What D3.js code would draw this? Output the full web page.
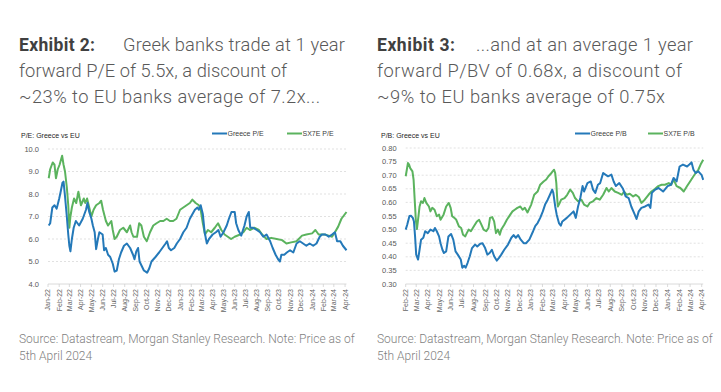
<!DOCTYPE html>
<html>
<head>
<meta charset="utf-8">
<script src="https://cdn.jsdelivr.net/npm/d3@7"></script>
<style>
  body { margin: 0; background: #fff; }
  svg { display: block; }
</style>
</head>
<body>
<script>
// Greek banks vs SX7E, 1y forward multiples
var greecePE = [
  ["2022-01-03",6.6],["2022-01-07",6.7],["2022-01-13",7.4],["2022-01-19",7.5],["2022-01-25",7.35],
  ["2022-02-01",7.8],["2022-02-05",8.1],["2022-02-10",8.5],["2022-02-13",8.55],["2022-02-17",7.9],
  ["2022-02-22",7.0],["2022-02-26",6.2],["2022-03-01",5.7],["2022-03-04",5.45],["2022-03-08",6.0],
  ["2022-03-13",6.5],["2022-03-19",6.8],["2022-03-28",6.6],["2022-04-07",6.9],["2022-04-16",7.3],
  ["2022-04-20",7.6],["2022-04-25",7.2],["2022-05-01",6.9],["2022-05-05",6.6],["2022-05-10",6.3],
  ["2022-05-14",5.55],["2022-05-19",6.0],["2022-05-23",6.3],["2022-06-01",6.2],["2022-06-05",5.5],
  ["2022-06-10",5.6],["2022-06-16",5.3],["2022-06-22",5.2],["2022-06-29",4.9],["2022-07-04",4.55],
  ["2022-07-10",4.6],["2022-07-16",5.1],["2022-07-22",5.4],["2022-07-30",5.7],["2022-08-07",5.8],
  ["2022-08-16",5.6],["2022-08-24",5.3],["2022-08-28",5.1],["2022-09-02",5.45],["2022-09-07",5.6],
  ["2022-09-11",5.0],["2022-09-17",4.8],["2022-09-23",4.6],["2022-09-28",4.55],["2022-10-02",4.5],
  ["2022-10-08",4.7],["2022-10-14",5.0],["2022-10-25",5.2],["2022-11-04",5.4],["2022-11-13",5.6],
  ["2022-11-22",5.8],["2022-11-26",5.9],["2022-12-01",5.6],["2022-12-07",5.5],["2022-12-16",5.6],
  ["2022-12-23",5.8],["2023-01-01",6.0],["2023-01-10",6.3],["2023-01-19",6.5],["2023-01-28",6.9],
  ["2023-02-04",7.1],["2023-02-11",7.3],["2023-02-18",7.4],["2023-02-22",7.3],["2023-02-27",7.5],
  ["2023-03-05",7.1],["2023-03-10",6.3],["2023-03-16",5.8],["2023-03-22",6.0],["2023-04-01",6.2],
  ["2023-04-10",6.3],["2023-04-17",6.4],["2023-04-23",6.1],["2023-05-01",6.3],["2023-05-10",6.6],
  ["2023-05-16",6.9],["2023-05-23",7.2],["2023-06-01",7.2],["2023-06-05",6.7],["2023-06-11",6.4],
  ["2023-06-19",6.15],["2023-06-28",6.6],["2023-07-04",7.0],["2023-07-10",7.2],["2023-07-14",6.5],
  ["2023-07-22",6.5],["2023-08-01",6.4],["2023-08-10",6.3],["2023-08-19",6.1],["2023-08-28",6.2],
  ["2023-09-07",5.9],["2023-09-14",5.6],["2023-09-22",5.3],["2023-09-29",5.1],["2023-10-04",5.0],
  ["2023-10-08",5.3],["2023-10-16",5.3],["2023-10-23",5.4],["2023-11-01",5.5],["2023-11-10",5.4],
  ["2023-11-19",5.8],["2023-11-28",5.9],["2023-12-07",5.8],["2023-12-16",5.7],["2023-12-25",5.8],
  ["2024-01-04",5.7],["2024-01-13",5.8],["2024-01-22",6.1],["2024-01-28",6.2],["2024-02-07",6.2],
  ["2024-02-16",6.1],["2024-02-25",6.2],["2024-03-04",6.3],["2024-03-10",5.9],["2024-03-19",5.9],
  ["2024-03-26",5.7],["2024-04-05",5.5]
];
var sx7ePE = [
  ["2022-01-03",8.7],["2022-01-07",9.1],["2022-01-14",9.4],["2022-01-19",9.3],["2022-01-23",8.7],
  ["2022-01-28",9.1],["2022-02-02",9.3],["2022-02-09",9.7],["2022-02-13",9.3],["2022-02-17",9.0],
  ["2022-02-22",8.3],["2022-02-26",7.5],["2022-03-01",6.5],["2022-03-04",7.0],["2022-03-08",7.4],
  ["2022-03-14",7.8],["2022-03-20",7.6],["2022-03-26",8.1],["2022-04-02",7.5],["2022-04-10",7.8],
  ["2022-04-14",7.6],["2022-04-19",7.8],["2022-04-25",7.4],["2022-05-01",7.0],["2022-05-07",7.3],
  ["2022-05-14",7.5],["2022-05-23",7.6],["2022-05-28",7.7],["2022-06-02",7.3],["2022-06-10",6.8],
  ["2022-06-16",6.6],["2022-06-25",6.8],["2022-06-29",6.4],["2022-07-04",6.0],["2022-07-10",6.1],
  ["2022-07-19",6.4],["2022-07-28",6.5],["2022-08-07",6.3],["2022-08-16",6.6],["2022-08-20",6.3],
  ["2022-08-25",6.1],["2022-09-04",6.1],["2022-09-10",6.7],["2022-09-16",6.6],["2022-09-23",6.1],
  ["2022-10-01",5.9],["2022-10-10",6.3],["2022-10-19",6.6],["2022-10-28",6.7],["2022-11-07",6.8],
  ["2022-11-16",6.8],["2022-11-25",6.9],["2022-12-04",6.8],["2022-12-13",6.8],["2022-12-22",6.9],
  ["2023-01-01",7.3],["2023-01-10",7.4],["2023-01-19",7.5],["2023-01-28",7.6],["2023-02-04",7.75],
  ["2023-02-13",7.6],["2023-02-22",7.5],["2023-02-27",7.3],["2023-03-05",6.7],["2023-03-11",6.2],
  ["2023-03-19",6.4],["2023-03-28",6.3],["2023-04-07",6.5],["2023-04-16",6.7],["2023-04-25",6.4],
  ["2023-05-04",6.2],["2023-05-13",6.1],["2023-05-22",6.0],["2023-06-01",6.1],["2023-06-16",6.2],
  ["2023-06-25",6.3],["2023-07-04",6.5],["2023-07-13",6.4],["2023-07-25",6.5],["2023-08-07",6.4],
  ["2023-08-16",6.2],["2023-08-28",6.0],["2023-09-10",6.05],["2023-09-25",6.0],["2023-10-10",5.95],
  ["2023-10-22",5.8],["2023-11-04",5.85],["2023-11-19",5.9],["2023-12-04",6.15],["2023-12-16",6.2],
  ["2024-01-01",6.25],["2024-01-10",6.4],["2024-01-19",6.2],["2024-02-04",6.2],["2024-02-16",6.15],
  ["2024-02-25",6.1],["2024-03-04",6.3],["2024-03-13",6.55],["2024-03-22",6.9],["2024-04-05",7.2]
];
var greecePB = [
  ["2022-02-01",0.50],["2022-02-05",0.518],["2022-02-11",0.55],["2022-02-15",0.551],["2022-02-20",0.543],
  ["2022-02-23",0.53],["2022-02-26",0.475],["2022-03-01",0.408],["2022-03-06",0.39],["2022-03-10",0.426],
  ["2022-03-14",0.463],["2022-03-20",0.47],["2022-03-25",0.494],["2022-04-01",0.487],["2022-04-08",0.50],
  ["2022-04-16",0.494],["2022-04-20",0.506],["2022-04-25",0.494],["2022-05-01",0.475],["2022-05-05",0.45],
  ["2022-05-10",0.426],["2022-05-14",0.414],["2022-05-20",0.42],["2022-05-26",0.475],["2022-06-02",0.484],
  ["2022-06-08",0.463],["2022-06-14",0.42],["2022-06-20",0.408],["2022-06-28",0.39],["2022-07-02",0.36],
  ["2022-07-07",0.367],["2022-07-11",0.36],["2022-07-16",0.377],["2022-07-22",0.402],["2022-07-28",0.432],
  ["2022-08-05",0.445],["2022-08-11",0.438],["2022-08-19",0.448],["2022-08-25",0.45],["2022-09-01",0.432],
  ["2022-09-07",0.408],["2022-09-13",0.414],["2022-09-19",0.426],["2022-09-25",0.402],["2022-10-02",0.386],
  ["2022-10-08",0.396],["2022-10-14",0.408],["2022-10-22",0.426],["2022-11-01",0.445],["2022-11-10",0.47],
  ["2022-11-16",0.48],["2022-11-22",0.47],["2022-11-28",0.48],["2022-12-05",0.463],["2022-12-13",0.45],
  ["2022-12-19",0.45],["2022-12-28",0.463],["2023-01-07",0.494],["2023-01-13",0.514],["2023-01-19",0.524],
  ["2023-01-26",0.543],["2023-02-02",0.567],["2023-02-08",0.592],["2023-02-15",0.61],["2023-02-21",0.628],
  ["2023-02-27",0.647],["2023-03-02",0.635],["2023-03-07",0.585],["2023-03-11",0.555],["2023-03-17",0.524],
  ["2023-03-22",0.514],["2023-03-26",0.53],["2023-04-07",0.543],["2023-04-16",0.555],["2023-04-25",0.567],
  ["2023-05-01",0.543],["2023-05-07",0.585],["2023-05-13",0.616],["2023-05-19",0.66],["2023-05-23",0.64],
  ["2023-06-01",0.671],["2023-06-10",0.677],["2023-06-16",0.647],["2023-06-22",0.635],["2023-06-29",0.665],
  ["2023-07-05",0.671],["2023-07-13",0.708],["2023-07-19",0.702],["2023-07-26",0.696],["2023-08-04",0.702],
  ["2023-08-10",0.677],["2023-08-16",0.66],["2023-08-25",0.671],["2023-09-04",0.65],["2023-09-11",0.622],
  ["2023-09-19",0.616],["2023-09-26",0.585],["2023-10-04",0.56],["2023-10-10",0.539],["2023-10-16",0.567],
  ["2023-10-23",0.58],["2023-11-02",0.585],["2023-11-11",0.592],["2023-11-16",0.58],["2023-11-20",0.635],
  ["2023-11-29",0.647],["2023-12-08",0.653],["2023-12-20",0.64],["2024-01-01",0.66],["2024-01-10",0.665],
  ["2024-01-17",0.69],["2024-01-25",0.677],["2024-02-02",0.732],["2024-02-11",0.739],["2024-02-22",0.732],
  ["2024-02-28",0.739],["2024-03-05",0.747],["2024-03-10",0.72],["2024-03-16",0.708],["2024-03-23",0.714],
  ["2024-04-01",0.70],["2024-04-05",0.683]
];
var sx7ePB = [
  ["2022-02-01",0.696],["2022-02-04",0.72],["2022-02-07",0.745],["2022-02-10",0.739],["2022-02-13",0.726],
  ["2022-02-19",0.714],["2022-02-22",0.684],["2022-02-25",0.61],["2022-02-28",0.536],["2022-03-03",0.502],
  ["2022-03-07",0.549],["2022-03-10",0.585],["2022-03-14",0.604],["2022-03-19",0.598],["2022-03-23",0.616],
  ["2022-03-28",0.598],["2022-04-04",0.585],["2022-04-08",0.567],["2022-04-13",0.58],["2022-04-19",0.573],
  ["2022-04-25",0.549],["2022-05-01",0.555],["2022-05-05",0.536],["2022-05-13",0.555],["2022-05-20",0.585],
  ["2022-05-27",0.598],["2022-06-01",0.58],["2022-06-05",0.549],["2022-06-11",0.543],["2022-06-16",0.536],
  ["2022-06-23",0.512],["2022-06-29",0.506],["2022-07-04",0.481],["2022-07-10",0.475],["2022-07-14",0.487],
  ["2022-07-19",0.50],["2022-07-25",0.494],["2022-08-02",0.512],["2022-08-10",0.53],["2022-08-16",0.536],
  ["2022-08-22",0.518],["2022-08-28",0.50],["2022-09-04",0.494],["2022-09-10",0.506],["2022-09-14",0.543],
  ["2022-09-20",0.546],["2022-09-25",0.53],["2022-09-30",0.487],["2022-10-05",0.50],["2022-10-10",0.481],
  ["2022-10-14",0.50],["2022-10-22",0.518],["2022-10-29",0.536],["2022-11-07",0.555],["2022-11-13",0.567],
  ["2022-11-19",0.573],["2022-11-26",0.58],["2022-12-04",0.585],["2022-12-10",0.573],["2022-12-16",0.58],
  ["2022-12-23",0.563],["2023-01-02",0.592],["2023-01-10",0.628],["2023-01-19",0.64],["2023-01-26",0.665],
  ["2023-02-04",0.677],["2023-02-11",0.684],["2023-02-17",0.696],["2023-02-25",0.708],["2023-02-28",0.714],
  ["2023-03-04",0.72],["2023-03-07",0.708],["2023-03-10",0.671],["2023-03-12",0.622],["2023-03-14",0.585],
  ["2023-03-19",0.598],["2023-03-23",0.61],["2023-04-01",0.616],["2023-04-08",0.628],["2023-04-16",0.647],
  ["2023-04-23",0.635],["2023-04-29",0.616],["2023-05-07",0.604],["2023-05-16",0.61],["2023-05-23",0.592],
  ["2023-06-01",0.585],["2023-06-07",0.598],["2023-06-16",0.604],["2023-06-25",0.616],["2023-07-04",0.61],
  ["2023-07-13",0.628],["2023-07-22",0.653],["2023-07-28",0.64],["2023-08-04",0.653],["2023-08-13",0.64],
  ["2023-08-22",0.635],["2023-09-01",0.628],["2023-09-07",0.64],["2023-09-14",0.628],["2023-09-22",0.632],
  ["2023-10-01",0.622],["2023-10-08",0.628],["2023-10-16",0.62],["2023-10-23",0.598],["2023-11-01",0.61],
  ["2023-11-11",0.628],["2023-11-19",0.64],["2023-11-28",0.649],["2023-12-07",0.66],["2023-12-16",0.665],
  ["2023-12-25",0.665],["2024-01-04",0.671],["2024-01-11",0.665],["2024-01-17",0.684],["2024-01-25",0.66],
  ["2024-02-04",0.653],["2024-02-13",0.64],["2024-02-22",0.66],["2024-03-01",0.677],["2024-03-10",0.696],
  ["2024-03-16",0.708],["2024-03-23",0.72],["2024-03-29",0.739],["2024-04-05",0.757]
];

var peTicks = [4, 5, 6, 7, 8, 9, 10];
var pbTicks = [0.30, 0.35, 0.40, 0.45, 0.50, 0.55, 0.60, 0.65, 0.70, 0.75, 0.80];

var blue = "#2479b9", green = "#5bb35e";
var parse = d3.timeParse("%Y-%m-%d");
var fmtMonth = d3.timeFormat("%b-%y");

var svg = d3.select("body").append("svg")
    .attr("width", 721)
    .attr("height", 392);

svg.append("rect").attr("width", 721).attr("height", 392).attr("fill", "#fff");

function drawPanel(p) {
  var g = svg.append("g");

  // title block (widths pinned to the original wrap)
  g.append("text")
      .attr("x", p.titleX).attr("y", 51)
      .attr("textLength", p.exhibitW).attr("lengthAdjust", "spacing")
      .style("font-family", "Roboto").style("font-size", "17.5px")
      .style("font-weight", "bold").style("fill", "#404040")
      .text(p.exhibit);
  p.title.forEach(function(line, i) {
    g.append("text")
        .attr("x", i === 0 ? p.firstX : p.titleX).attr("y", 51 + i * 26)
        .attr("textLength", p.titleW[i]).attr("lengthAdjust", "spacing")
        .style("font-family", "Roboto").style("font-size", "18.3px")
        .style("font-weight", 300).style("fill", "#595959")
        .text(line);
  });

  var x = d3.scaleTime()
      .domain([parse(p.start), parse("2024-04-05")])
      .range([p.left, p.right]);
  var y = d3.scaleLinear()
      .domain(d3.extent(p.ticks))
      .range([284, p.top]);

  // gridlines
  g.selectAll(".grid")
      .data(p.ticks.slice(1))
    .enter().append("line")
      .attr("x1", p.left).attr("x2", p.right)
      .attr("y1", function(d) { return y(d); })
      .attr("y2", function(d) { return y(d); })
      .attr("stroke", "#d9d9d9").attr("stroke-width", 0.8)
      .attr("stroke-dasharray", "2,2");

  g.selectAll(".ylab")
      .data(p.ticks)
    .enter().append("text")
      .attr("x", p.left - 9)
      .attr("y", function(d) { return y(d); })
      .attr("dy", "0.35em")
      .attr("text-anchor", "end")
      .style("font-family", "Liberation Sans").style("font-size", "7.5px").style("fill", "#595959")
      .text(function(d) { return d3.format(p.fmt)(d); });

  // x axis line + month ticks
  g.append("line")
      .attr("x1", p.left).attr("x2", p.right)
      .attr("y1", y(p.ticks[0])).attr("y2", y(p.ticks[0]))
      .attr("stroke", "#d0d0d0").attr("stroke-width", 0.8);

  var months = d3.timeMonth.range(parse(p.start), parse("2024-04-02"));
  g.selectAll(".xtick")
      .data(months)
    .enter().append("line")
      .attr("x1", function(d) { return x(d); })
      .attr("x2", function(d) { return x(d); })
      .attr("y1", 284).attr("y2", 287)
      .attr("stroke", "#d0d0d0").attr("stroke-width", 0.8);

  g.selectAll(".xlab")
      .data(months)
    .enter().append("text")
      .attr("transform", function(d) { return "translate(" + x(d) + ",289) rotate(-90)"; })
      .attr("dy", "0.35em")
      .attr("text-anchor", "end")
      .style("font-family", "Liberation Sans").style("font-size", "7px").style("fill", "#666")
      .text(function(d) { return fmtMonth(d); });

  var line = d3.line()
      .x(function(d) { return x(parse(d[0])); })
      .y(function(d) { return y(d[1]); });

  g.append("path").datum(p.series[1])
      .attr("d", line).attr("fill", "none")
      .attr("stroke", green).attr("stroke-width", 2).attr("stroke-linejoin", "round");
  g.append("path").datum(p.series[0])
      .attr("d", line).attr("fill", "none")
      .attr("stroke", blue).attr("stroke-width", 2).attr("stroke-linejoin", "round");

  // axis title + legend
  g.append("text")
      .attr("x", p.axisTitleX).attr("y", 137.5)
      .style("font-family", "Liberation Sans").style("font-size", "7px").style("fill", "#262626")
      .text(p.axisTitle);

  p.legend.forEach(function(l, i) {
    g.append("line")
        .attr("x1", l.x).attr("x2", l.x + 15)
        .attr("y1", 133.5).attr("y2", 133.5)
        .attr("stroke", i === 0 ? blue : green).attr("stroke-width", 2);
    g.append("text")
        .attr("x", l.x + 15.5).attr("y", 133.5).attr("dy", "0.35em")
        .style("font-family", "Liberation Sans").style("font-size", "7px").style("fill", "#404040")
        .text(l.name);
  });

  // source
  ["Source: Datastream, Morgan Stanley Research. Note: Price as of", "5th April 2024"].forEach(function(s, i) {
    g.append("text")
        .attr("x", p.titleX).attr("y", 343 + i * 17)
        .style("font-family", "Roboto").style("font-size", "12px")
        .style("font-weight", 300).style("fill", "#7f7f7f")
        .text(s);
  });
}

drawPanel({
  exhibit: "Exhibit 2:", titleX: 19, exhibitW: 76, firstX: 123,
  title: ["Greek banks trade at 1 year", "forward P/E of 5.5x, a discount of", "~23% to EU banks average of 7.2x..."],
  titleW: [222, 268, 301],
  start: "2022-01-01", left: 48, right: 346.5, top: 149,
  ticks: peTicks, fmt: ".1f",
  series: [greecePE, sx7ePE],
  axisTitle: "P/E: Greece vs EU", axisTitleX: 21,
  legend: [{x: 212, name: "Greece P/E"}, {x: 287, name: "SX7E P/E"}]
});

drawPanel({
  exhibit: "Exhibit 3:", titleX: 377, exhibitW: 78, firstX: 476,
  title: ["...and at an average 1 year", "forward P/BV of 0.68x, a discount of", "~9% to EU banks average of 0.75x"],
  titleW: [217, 305, 288],
  start: "2022-02-01", left: 405.7, right: 703.2, top: 148,
  ticks: pbTicks, fmt: ".2f",
  series: [greecePB, sx7ePB],
  axisTitle: "P/B: Greece vs EU", axisTitleX: 381,
  legend: [{x: 575, name: "Greece P/B"}, {x: 648, name: "SX7E P/B"}]
});
</script>
</body>
</html>
